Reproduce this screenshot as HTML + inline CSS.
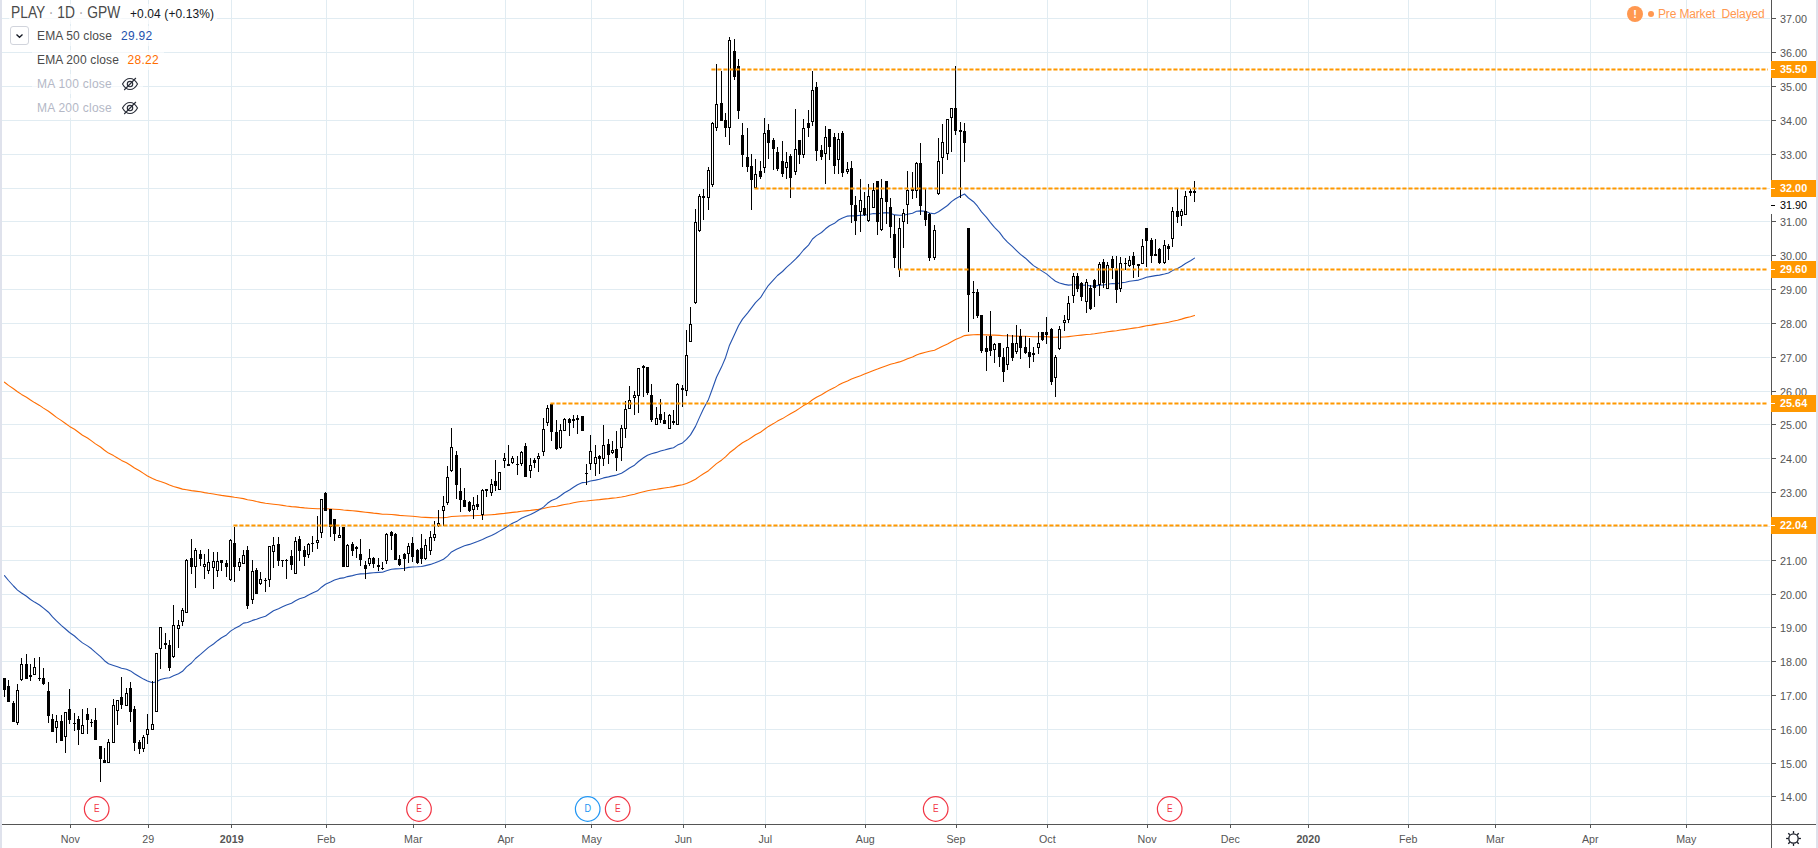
<!DOCTYPE html>
<html><head><meta charset="utf-8"><title>PLAY chart</title>
<style>
html,body{margin:0;padding:0;background:#fff;}
body{width:1818px;height:848px;overflow:hidden;position:relative;font-family:"Liberation Sans",sans-serif;}
.t{position:absolute;white-space:nowrap;line-height:1;}
.lg{background:rgba(255,255,255,.4);}
</style></head><body>
<svg width="1818" height="848" viewBox="0 0 1818 848" style="position:absolute;left:0;top:0">
<g shape-rendering="crispEdges" fill="#e1ecf2">
<rect x="2" y="796" width="1768" height="1"/>
<rect x="2" y="763" width="1768" height="1"/>
<rect x="2" y="729" width="1768" height="1"/>
<rect x="2" y="695" width="1768" height="1"/>
<rect x="2" y="661" width="1768" height="1"/>
<rect x="2" y="627" width="1768" height="1"/>
<rect x="2" y="594" width="1768" height="1"/>
<rect x="2" y="560" width="1768" height="1"/>
<rect x="2" y="526" width="1768" height="1"/>
<rect x="2" y="492" width="1768" height="1"/>
<rect x="2" y="458" width="1768" height="1"/>
<rect x="2" y="424" width="1768" height="1"/>
<rect x="2" y="391" width="1768" height="1"/>
<rect x="2" y="357" width="1768" height="1"/>
<rect x="2" y="323" width="1768" height="1"/>
<rect x="2" y="289" width="1768" height="1"/>
<rect x="2" y="255" width="1768" height="1"/>
<rect x="2" y="221" width="1768" height="1"/>
<rect x="2" y="188" width="1768" height="1"/>
<rect x="2" y="154" width="1768" height="1"/>
<rect x="2" y="120" width="1768" height="1"/>
<rect x="2" y="86" width="1768" height="1"/>
<rect x="2" y="52" width="1768" height="1"/>
<rect x="2" y="18" width="1768" height="1"/>
<rect x="70" y="0" width="1" height="824"/>
<rect x="148" y="0" width="1" height="824"/>
<rect x="231" y="0" width="1" height="824"/>
<rect x="326" y="0" width="1" height="824"/>
<rect x="413" y="0" width="1" height="824"/>
<rect x="505" y="0" width="1" height="824"/>
<rect x="591" y="0" width="1" height="824"/>
<rect x="683" y="0" width="1" height="824"/>
<rect x="765" y="0" width="1" height="824"/>
<rect x="865" y="0" width="1" height="824"/>
<rect x="956" y="0" width="1" height="824"/>
<rect x="1047" y="0" width="1" height="824"/>
<rect x="1147" y="0" width="1" height="824"/>
<rect x="1230" y="0" width="1" height="824"/>
<rect x="1308" y="0" width="1" height="824"/>
<rect x="1408" y="0" width="1" height="824"/>
<rect x="1495" y="0" width="1" height="824"/>
<rect x="1590" y="0" width="1" height="824"/>
<rect x="1686" y="0" width="1" height="824"/>
</g>
<polyline points="4.5,382.2 8.5,385.4 13.5,388.7 17.5,391.7 21.5,394.4 26.5,397.2 30.5,400.0 34.5,402.6 39.5,405.4 43.5,408.1 48.5,411.2 52.5,414.3 56.5,417.4 61.5,420.6 65.5,423.5 69.5,426.4 74.5,429.3 78.5,432.3 82.5,435.2 87.5,438.0 91.5,440.9 95.5,443.9 100.5,447.0 104.5,450.2 108.5,453.1 113.5,455.6 117.5,458.0 121.5,460.4 126.5,462.8 130.5,465.2 134.5,468.0 139.5,470.8 143.5,473.4 147.5,476.0 152.5,478.5 156.5,480.2 160.5,481.6 165.5,483.2 169.5,485.1 173.5,486.5 178.5,487.9 182.5,489.1 186.5,489.8 191.5,490.6 195.5,491.1 200.5,491.8 204.5,492.6 208.5,493.3 213.5,494.0 217.5,494.7 221.5,495.4 226.5,496.1 230.5,496.6 234.5,497.3 239.5,498.0 243.5,498.6 247.5,499.7 252.5,500.5 256.5,501.5 260.5,502.4 265.5,503.2 269.5,503.7 273.5,504.2 278.5,504.8 282.5,505.4 286.5,506.0 291.5,506.6 295.5,506.9 299.5,507.4 304.5,507.9 308.5,508.2 312.5,508.5 317.5,508.8 321.5,508.8 325.5,508.8 330.5,509.0 334.5,509.2 339.5,509.5 343.5,510.0 347.5,510.4 352.5,510.8 356.5,511.1 360.5,511.6 365.5,512.2 369.5,512.6 373.5,513.1 378.5,513.6 382.5,514.2 386.5,514.3 391.5,514.5 395.5,514.9 399.5,515.4 404.5,515.7 408.5,516.0 412.5,516.3 417.5,516.8 421.5,517.2 425.5,517.4 430.5,517.6 434.5,517.7 438.5,517.8 443.5,517.6 447.5,517.2 451.5,516.5 456.5,516.2 460.5,516.0 464.5,515.9 469.5,515.8 473.5,515.7 477.5,515.5 482.5,515.3 486.5,515.0 491.5,514.7 495.5,514.4 499.5,513.9 504.5,513.4 508.5,512.9 512.5,512.4 517.5,511.9 521.5,511.3 525.5,510.9 530.5,510.4 534.5,509.9 538.5,509.4 543.5,508.5 547.5,507.5 551.5,506.8 556.5,506.2 560.5,505.4 564.5,504.5 569.5,503.7 573.5,502.8 577.5,502.0 582.5,501.3 586.5,501.0 590.5,500.5 595.5,500.0 599.5,499.6 603.5,499.1 608.5,498.6 612.5,498.1 616.5,497.7 621.5,497.0 625.5,496.2 629.5,495.2 634.5,494.2 638.5,493.0 643.5,491.7 647.5,490.7 651.5,490.0 656.5,489.3 660.5,488.6 664.5,488.0 669.5,487.3 673.5,486.6 677.5,485.6 682.5,484.7 686.5,483.4 690.5,481.8 695.5,479.2 699.5,476.4 703.5,473.7 708.5,470.7 712.5,467.2 716.5,463.6 721.5,460.2 725.5,456.9 729.5,452.8 734.5,449.0 738.5,445.7 742.5,442.8 747.5,440.1 751.5,437.5 755.5,434.8 760.5,432.2 764.5,429.2 768.5,426.4 773.5,423.6 777.5,421.1 782.5,418.6 786.5,416.1 790.5,413.7 795.5,411.0 799.5,408.4 803.5,405.6 808.5,402.9 812.5,399.7 816.5,397.2 821.5,394.8 825.5,392.3 829.5,389.9 834.5,387.6 838.5,385.1 842.5,383.0 847.5,380.9 851.5,379.1 855.5,377.5 860.5,375.7 864.5,374.1 868.5,372.4 873.5,370.5 877.5,369.1 881.5,367.4 886.5,365.7 890.5,364.3 894.5,363.3 899.5,361.9 903.5,360.4 907.5,358.7 912.5,357.0 916.5,355.1 920.5,353.6 925.5,352.3 929.5,351.3 934.5,350.2 938.5,348.3 942.5,346.2 947.5,344.0 951.5,341.7 955.5,339.6 960.5,337.5 964.5,335.6 968.5,335.1 973.5,334.7 977.5,334.6 981.5,334.7 986.5,334.9 990.5,335.1 994.5,335.1 999.5,335.4 1003.5,335.7 1007.5,335.8 1012.5,336.0 1016.5,336.1 1020.5,336.2 1025.5,336.3 1029.5,336.5 1033.5,336.7 1038.5,336.7 1042.5,336.7 1046.5,336.6 1051.5,337.1 1055.5,337.2 1059.5,337.1 1064.5,337.0 1068.5,336.6 1073.5,336.0 1077.5,335.5 1081.5,335.1 1086.5,334.5 1090.5,334.3 1094.5,333.8 1099.5,333.0 1103.5,332.5 1107.5,331.8 1112.5,331.1 1116.5,330.7 1120.5,330.0 1125.5,329.4 1129.5,328.7 1133.5,328.1 1138.5,327.5 1142.5,326.6 1146.5,325.8 1151.5,325.1 1155.5,324.4 1159.5,323.8 1164.5,323.0 1168.5,322.3 1172.5,321.2 1177.5,320.2 1181.5,319.1 1185.5,317.9 1190.5,316.7 1194.5,315.4" fill="none" stroke="#ff6d00" stroke-width="1.1" stroke-linejoin="round" stroke-linecap="round"/>
<polyline points="4.5,575.6 8.5,580.5 13.5,586.0 17.5,590.1 21.5,593.0 26.5,596.3 30.5,599.5 34.5,602.1 39.5,605.0 43.5,608.1 48.5,612.2 52.5,616.9 56.5,620.9 61.5,625.6 65.5,629.0 69.5,632.5 74.5,636.0 78.5,639.6 82.5,642.9 87.5,645.9 91.5,648.8 95.5,652.4 100.5,656.6 104.5,660.7 108.5,663.8 113.5,665.4 117.5,666.7 121.5,668.2 126.5,669.2 130.5,670.9 134.5,673.7 139.5,676.7 143.5,679.1 147.5,681.1 152.5,682.8 156.5,681.7 160.5,679.5 165.5,678.2 169.5,677.8 173.5,675.8 178.5,673.8 182.5,671.3 186.5,666.9 191.5,663.0 195.5,658.5 200.5,654.4 204.5,650.9 208.5,647.4 213.5,644.0 217.5,640.7 221.5,637.7 226.5,634.9 230.5,631.1 234.5,628.6 239.5,626.0 243.5,623.1 247.5,622.5 252.5,620.4 256.5,619.3 260.5,617.7 265.5,616.2 269.5,613.5 273.5,610.8 278.5,608.8 282.5,606.8 286.5,605.0 291.5,603.3 295.5,600.8 299.5,598.8 304.5,597.2 308.5,595.0 312.5,592.9 317.5,590.8 321.5,587.2 325.5,584.2 330.5,582.0 334.5,580.1 339.5,578.4 343.5,577.9 347.5,576.6 352.5,575.6 356.5,574.5 360.5,573.9 365.5,573.7 369.5,573.1 373.5,572.7 378.5,572.4 382.5,572.2 386.5,570.7 391.5,569.3 395.5,568.9 399.5,568.8 404.5,568.3 408.5,567.4 412.5,567.0 417.5,566.8 421.5,566.5 425.5,565.6 430.5,564.4 434.5,563.1 438.5,561.5 443.5,559.3 447.5,556.1 451.5,551.9 456.5,549.3 460.5,547.4 464.5,545.8 469.5,544.4 473.5,542.9 477.5,541.5 482.5,539.5 486.5,537.6 491.5,535.4 495.5,533.5 499.5,531.1 504.5,528.2 508.5,525.8 512.5,523.2 517.5,520.9 521.5,518.2 525.5,516.6 530.5,514.6 534.5,512.5 538.5,510.3 543.5,507.1 547.5,503.3 551.5,500.5 556.5,498.5 560.5,495.8 564.5,492.8 569.5,490.0 573.5,487.3 577.5,484.7 582.5,482.6 586.5,482.3 590.5,481.0 595.5,480.1 599.5,479.2 603.5,477.9 608.5,476.9 612.5,475.9 616.5,475.1 621.5,473.2 625.5,470.7 629.5,468.0 634.5,465.2 638.5,461.5 643.5,457.8 647.5,455.2 651.5,453.8 656.5,452.4 660.5,451.0 664.5,450.0 669.5,448.6 673.5,447.7 677.5,445.1 682.5,442.9 686.5,439.4 690.5,434.9 695.5,426.4 699.5,417.4 703.5,408.8 708.5,399.4 712.5,388.5 716.5,377.2 721.5,367.1 725.5,357.7 729.5,345.2 734.5,334.6 738.5,325.8 742.5,319.1 747.5,313.1 751.5,307.9 755.5,302.7 760.5,297.7 764.5,291.3 768.5,285.3 773.5,279.9 777.5,275.5 782.5,271.5 786.5,267.3 790.5,263.8 795.5,259.2 799.5,255.0 803.5,250.0 808.5,245.1 812.5,239.0 816.5,235.6 821.5,232.5 825.5,228.8 829.5,225.7 834.5,223.3 838.5,220.0 842.5,218.1 847.5,216.1 851.5,215.7 855.5,215.9 860.5,215.3 864.5,215.2 868.5,214.5 873.5,213.5 877.5,213.8 881.5,213.1 886.5,212.6 890.5,213.2 894.5,214.9 899.5,215.3 903.5,215.2 907.5,214.2 912.5,213.2 916.5,211.2 920.5,210.9 925.5,211.3 929.5,213.1 934.5,213.8 938.5,211.7 942.5,209.0 947.5,205.5 951.5,201.6 955.5,198.8 960.5,196.1 964.5,194.0 968.5,198.0 973.5,201.7 977.5,206.2 981.5,211.9 986.5,217.4 990.5,222.6 994.5,227.3 999.5,232.4 1003.5,237.8 1007.5,242.2 1012.5,246.7 1016.5,250.6 1020.5,254.4 1025.5,258.2 1029.5,262.0 1033.5,265.6 1038.5,268.7 1042.5,271.4 1046.5,273.9 1051.5,278.1 1055.5,281.2 1059.5,283.0 1064.5,284.4 1068.5,285.1 1073.5,284.7 1077.5,284.8 1081.5,285.3 1086.5,285.1 1090.5,286.0 1094.5,286.1 1099.5,285.1 1103.5,285.0 1107.5,284.2 1112.5,283.5 1116.5,283.7 1120.5,282.9 1125.5,282.2 1129.5,281.3 1133.5,280.7 1138.5,280.1 1142.5,278.8 1146.5,277.3 1151.5,276.4 1155.5,275.6 1159.5,275.1 1164.5,274.0 1168.5,273.0 1172.5,270.6 1177.5,268.5 1181.5,266.2 1185.5,263.5 1190.5,260.8 1194.5,258.1" fill="none" stroke="#2452ae" stroke-width="1.1" stroke-linejoin="round" stroke-linecap="round"/>
<g shape-rendering="crispEdges">
<rect x="4" y="678" width="1" height="19" fill="#000"/>
<rect x="3" y="678" width="3" height="12" fill="#000"/>
<rect x="8" y="680" width="1" height="22" fill="#000"/>
<rect x="7" y="686" width="3" height="16" fill="#000"/>
<rect x="13" y="701" width="1" height="21" fill="#000"/>
<rect x="12" y="703" width="3" height="19" fill="#000"/>
<rect x="17" y="684" width="1" height="41" fill="#000"/>
<rect x="16" y="690" width="3" height="33" fill="#000"/>
<rect x="17" y="691" width="1" height="31" fill="#fff"/>
<rect x="21" y="658" width="1" height="23" fill="#000"/>
<rect x="20" y="664" width="3" height="16" fill="#000"/>
<rect x="21" y="665" width="1" height="14" fill="#fff"/>
<rect x="26" y="654" width="1" height="25" fill="#000"/>
<rect x="25" y="664" width="3" height="15" fill="#000"/>
<rect x="30" y="664" width="1" height="17" fill="#000"/>
<rect x="29" y="675" width="3" height="2" fill="#000"/>
<rect x="34" y="658" width="1" height="17" fill="#000"/>
<rect x="33" y="667" width="3" height="8" fill="#000"/>
<rect x="34" y="668" width="1" height="6" fill="#fff"/>
<rect x="39" y="657" width="1" height="24" fill="#000"/>
<rect x="38" y="678" width="3" height="1" fill="#000"/>
<rect x="43" y="668" width="1" height="17" fill="#000"/>
<rect x="42" y="678" width="3" height="6" fill="#000"/>
<rect x="48" y="682" width="1" height="41" fill="#000"/>
<rect x="47" y="691" width="3" height="25" fill="#000"/>
<rect x="52" y="714" width="1" height="18" fill="#000"/>
<rect x="51" y="719" width="3" height="13" fill="#000"/>
<rect x="56" y="715" width="1" height="28" fill="#000"/>
<rect x="55" y="721" width="3" height="7" fill="#000"/>
<rect x="56" y="722" width="1" height="5" fill="#fff"/>
<rect x="61" y="715" width="1" height="26" fill="#000"/>
<rect x="60" y="721" width="3" height="20" fill="#000"/>
<rect x="65" y="712" width="1" height="41" fill="#000"/>
<rect x="64" y="712" width="3" height="25" fill="#000"/>
<rect x="65" y="713" width="1" height="23" fill="#fff"/>
<rect x="69" y="689" width="1" height="35" fill="#000"/>
<rect x="68" y="709" width="3" height="11" fill="#000"/>
<rect x="74" y="713" width="1" height="18" fill="#000"/>
<rect x="73" y="723" width="3" height="1" fill="#000"/>
<rect x="78" y="716" width="1" height="29" fill="#000"/>
<rect x="77" y="719" width="3" height="11" fill="#000"/>
<rect x="82" y="709" width="1" height="25" fill="#000"/>
<rect x="81" y="725" width="3" height="9" fill="#000"/>
<rect x="82" y="726" width="1" height="7" fill="#fff"/>
<rect x="87" y="708" width="1" height="26" fill="#000"/>
<rect x="86" y="714" width="3" height="6" fill="#000"/>
<rect x="91" y="719" width="1" height="8" fill="#000"/>
<rect x="90" y="722" width="3" height="1" fill="#000"/>
<rect x="95" y="708" width="1" height="32" fill="#000"/>
<rect x="94" y="720" width="3" height="20" fill="#000"/>
<rect x="100" y="746" width="1" height="36" fill="#000"/>
<rect x="99" y="746" width="3" height="13" fill="#000"/>
<rect x="104" y="748" width="1" height="15" fill="#000"/>
<rect x="103" y="760" width="3" height="3" fill="#000"/>
<rect x="108" y="739" width="1" height="24" fill="#000"/>
<rect x="107" y="742" width="3" height="21" fill="#000"/>
<rect x="108" y="743" width="1" height="19" fill="#fff"/>
<rect x="113" y="699" width="1" height="44" fill="#000"/>
<rect x="112" y="705" width="3" height="38" fill="#000"/>
<rect x="113" y="706" width="1" height="36" fill="#fff"/>
<rect x="117" y="700" width="1" height="25" fill="#000"/>
<rect x="116" y="700" width="3" height="11" fill="#000"/>
<rect x="117" y="701" width="1" height="9" fill="#fff"/>
<rect x="121" y="677" width="1" height="32" fill="#000"/>
<rect x="120" y="697" width="3" height="8" fill="#000"/>
<rect x="126" y="688" width="1" height="18" fill="#000"/>
<rect x="125" y="693" width="3" height="13" fill="#000"/>
<rect x="126" y="694" width="1" height="11" fill="#fff"/>
<rect x="130" y="682" width="1" height="40" fill="#000"/>
<rect x="129" y="688" width="3" height="24" fill="#000"/>
<rect x="134" y="706" width="1" height="45" fill="#000"/>
<rect x="133" y="709" width="3" height="34" fill="#000"/>
<rect x="139" y="740" width="1" height="14" fill="#000"/>
<rect x="138" y="742" width="3" height="7" fill="#000"/>
<rect x="143" y="735" width="1" height="17" fill="#000"/>
<rect x="142" y="737" width="3" height="12" fill="#000"/>
<rect x="143" y="738" width="1" height="10" fill="#fff"/>
<rect x="147" y="714" width="1" height="30" fill="#000"/>
<rect x="146" y="729" width="3" height="6" fill="#000"/>
<rect x="147" y="730" width="1" height="4" fill="#fff"/>
<rect x="152" y="681" width="1" height="49" fill="#000"/>
<rect x="151" y="724" width="3" height="6" fill="#000"/>
<rect x="152" y="725" width="1" height="4" fill="#fff"/>
<rect x="156" y="653" width="1" height="59" fill="#000"/>
<rect x="155" y="653" width="3" height="59" fill="#000"/>
<rect x="156" y="654" width="1" height="57" fill="#fff"/>
<rect x="160" y="627" width="1" height="42" fill="#000"/>
<rect x="159" y="627" width="3" height="22" fill="#000"/>
<rect x="160" y="628" width="1" height="20" fill="#fff"/>
<rect x="165" y="633" width="1" height="16" fill="#000"/>
<rect x="164" y="643" width="3" height="2" fill="#000"/>
<rect x="169" y="640" width="1" height="31" fill="#000"/>
<rect x="168" y="645" width="3" height="23" fill="#000"/>
<rect x="173" y="605" width="1" height="53" fill="#000"/>
<rect x="172" y="625" width="3" height="32" fill="#000"/>
<rect x="173" y="626" width="1" height="30" fill="#fff"/>
<rect x="178" y="620" width="1" height="28" fill="#000"/>
<rect x="177" y="625" width="3" height="4" fill="#000"/>
<rect x="178" y="626" width="1" height="2" fill="#fff"/>
<rect x="182" y="608" width="1" height="18" fill="#000"/>
<rect x="181" y="610" width="3" height="12" fill="#000"/>
<rect x="182" y="611" width="1" height="10" fill="#fff"/>
<rect x="186" y="559" width="1" height="54" fill="#000"/>
<rect x="185" y="560" width="3" height="53" fill="#000"/>
<rect x="186" y="561" width="1" height="51" fill="#fff"/>
<rect x="191" y="539" width="1" height="35" fill="#000"/>
<rect x="190" y="558" width="3" height="9" fill="#000"/>
<rect x="195" y="548" width="1" height="40" fill="#000"/>
<rect x="194" y="550" width="3" height="17" fill="#000"/>
<rect x="195" y="551" width="1" height="15" fill="#fff"/>
<rect x="200" y="550" width="1" height="16" fill="#000"/>
<rect x="199" y="554" width="3" height="5" fill="#000"/>
<rect x="204" y="554" width="1" height="25" fill="#000"/>
<rect x="203" y="564" width="3" height="3" fill="#000"/>
<rect x="204" y="565" width="1" height="1" fill="#fff"/>
<rect x="208" y="549" width="1" height="25" fill="#000"/>
<rect x="207" y="562" width="3" height="9" fill="#000"/>
<rect x="208" y="563" width="1" height="7" fill="#fff"/>
<rect x="213" y="552" width="1" height="37" fill="#000"/>
<rect x="212" y="561" width="3" height="7" fill="#000"/>
<rect x="213" y="562" width="1" height="5" fill="#fff"/>
<rect x="217" y="552" width="1" height="25" fill="#000"/>
<rect x="216" y="561" width="3" height="10" fill="#000"/>
<rect x="217" y="562" width="1" height="8" fill="#fff"/>
<rect x="221" y="560" width="1" height="11" fill="#000"/>
<rect x="220" y="560" width="3" height="3" fill="#000"/>
<rect x="226" y="560" width="1" height="17" fill="#000"/>
<rect x="225" y="563" width="3" height="4" fill="#000"/>
<rect x="230" y="539" width="1" height="42" fill="#000"/>
<rect x="229" y="540" width="3" height="40" fill="#000"/>
<rect x="230" y="541" width="1" height="38" fill="#fff"/>
<rect x="234" y="527" width="1" height="55" fill="#000"/>
<rect x="233" y="543" width="3" height="24" fill="#000"/>
<rect x="239" y="558" width="1" height="13" fill="#000"/>
<rect x="238" y="562" width="3" height="5" fill="#000"/>
<rect x="239" y="563" width="1" height="3" fill="#fff"/>
<rect x="243" y="550" width="1" height="14" fill="#000"/>
<rect x="242" y="555" width="3" height="9" fill="#000"/>
<rect x="243" y="556" width="1" height="7" fill="#fff"/>
<rect x="247" y="546" width="1" height="63" fill="#000"/>
<rect x="246" y="550" width="3" height="56" fill="#000"/>
<rect x="252" y="560" width="1" height="44" fill="#000"/>
<rect x="251" y="571" width="3" height="29" fill="#000"/>
<rect x="252" y="572" width="1" height="27" fill="#fff"/>
<rect x="256" y="568" width="1" height="26" fill="#000"/>
<rect x="255" y="570" width="3" height="24" fill="#000"/>
<rect x="260" y="572" width="1" height="13" fill="#000"/>
<rect x="259" y="579" width="3" height="5" fill="#000"/>
<rect x="260" y="580" width="1" height="3" fill="#fff"/>
<rect x="265" y="578" width="1" height="14" fill="#000"/>
<rect x="264" y="580" width="3" height="1" fill="#000"/>
<rect x="269" y="546" width="1" height="41" fill="#000"/>
<rect x="268" y="546" width="3" height="34" fill="#000"/>
<rect x="269" y="547" width="1" height="32" fill="#fff"/>
<rect x="273" y="537" width="1" height="31" fill="#000"/>
<rect x="272" y="545" width="3" height="7" fill="#000"/>
<rect x="273" y="546" width="1" height="5" fill="#fff"/>
<rect x="278" y="537" width="1" height="29" fill="#000"/>
<rect x="277" y="544" width="3" height="17" fill="#000"/>
<rect x="282" y="560" width="1" height="7" fill="#000"/>
<rect x="281" y="560" width="3" height="1" fill="#000"/>
<rect x="286" y="559" width="1" height="20" fill="#000"/>
<rect x="285" y="560" width="3" height="1" fill="#000"/>
<rect x="291" y="550" width="1" height="20" fill="#000"/>
<rect x="290" y="556" width="3" height="9" fill="#000"/>
<rect x="295" y="537" width="1" height="37" fill="#000"/>
<rect x="294" y="541" width="3" height="33" fill="#000"/>
<rect x="295" y="542" width="1" height="31" fill="#fff"/>
<rect x="299" y="536" width="1" height="25" fill="#000"/>
<rect x="298" y="539" width="3" height="12" fill="#000"/>
<rect x="304" y="546" width="1" height="20" fill="#000"/>
<rect x="303" y="550" width="3" height="7" fill="#000"/>
<rect x="308" y="543" width="1" height="15" fill="#000"/>
<rect x="307" y="544" width="3" height="11" fill="#000"/>
<rect x="308" y="545" width="1" height="9" fill="#fff"/>
<rect x="312" y="536" width="1" height="16" fill="#000"/>
<rect x="311" y="543" width="3" height="1" fill="#000"/>
<rect x="317" y="516" width="1" height="33" fill="#000"/>
<rect x="316" y="540" width="3" height="3" fill="#000"/>
<rect x="317" y="541" width="1" height="1" fill="#fff"/>
<rect x="321" y="499" width="1" height="39" fill="#000"/>
<rect x="320" y="499" width="3" height="34" fill="#000"/>
<rect x="321" y="500" width="1" height="32" fill="#fff"/>
<rect x="325" y="492" width="1" height="19" fill="#000"/>
<rect x="324" y="493" width="3" height="18" fill="#000"/>
<rect x="330" y="509" width="1" height="28" fill="#000"/>
<rect x="329" y="509" width="3" height="18" fill="#000"/>
<rect x="334" y="519" width="1" height="22" fill="#000"/>
<rect x="333" y="519" width="3" height="15" fill="#000"/>
<rect x="339" y="527" width="1" height="11" fill="#000"/>
<rect x="338" y="535" width="3" height="3" fill="#000"/>
<rect x="339" y="536" width="1" height="1" fill="#fff"/>
<rect x="343" y="527" width="1" height="40" fill="#000"/>
<rect x="342" y="527" width="3" height="40" fill="#000"/>
<rect x="347" y="544" width="1" height="23" fill="#000"/>
<rect x="346" y="545" width="3" height="22" fill="#000"/>
<rect x="347" y="546" width="1" height="20" fill="#fff"/>
<rect x="352" y="542" width="1" height="14" fill="#000"/>
<rect x="351" y="544" width="3" height="7" fill="#000"/>
<rect x="356" y="546" width="1" height="12" fill="#000"/>
<rect x="355" y="547" width="3" height="2" fill="#000"/>
<rect x="360" y="539" width="1" height="27" fill="#000"/>
<rect x="359" y="554" width="3" height="6" fill="#000"/>
<rect x="365" y="561" width="1" height="18" fill="#000"/>
<rect x="364" y="565" width="3" height="4" fill="#000"/>
<rect x="369" y="549" width="1" height="17" fill="#000"/>
<rect x="368" y="558" width="3" height="6" fill="#000"/>
<rect x="369" y="559" width="1" height="4" fill="#fff"/>
<rect x="373" y="557" width="1" height="11" fill="#000"/>
<rect x="372" y="558" width="3" height="6" fill="#000"/>
<rect x="378" y="558" width="1" height="13" fill="#000"/>
<rect x="377" y="565" width="3" height="2" fill="#000"/>
<rect x="382" y="562" width="1" height="8" fill="#000"/>
<rect x="381" y="568" width="3" height="1" fill="#000"/>
<rect x="386" y="533" width="1" height="31" fill="#000"/>
<rect x="385" y="534" width="3" height="27" fill="#000"/>
<rect x="386" y="535" width="1" height="25" fill="#fff"/>
<rect x="391" y="531" width="1" height="19" fill="#000"/>
<rect x="390" y="532" width="3" height="4" fill="#000"/>
<rect x="395" y="533" width="1" height="27" fill="#000"/>
<rect x="394" y="534" width="3" height="26" fill="#000"/>
<rect x="399" y="555" width="1" height="11" fill="#000"/>
<rect x="398" y="559" width="3" height="6" fill="#000"/>
<rect x="404" y="553" width="1" height="18" fill="#000"/>
<rect x="403" y="554" width="3" height="5" fill="#000"/>
<rect x="408" y="543" width="1" height="20" fill="#000"/>
<rect x="407" y="546" width="3" height="8" fill="#000"/>
<rect x="408" y="547" width="1" height="6" fill="#fff"/>
<rect x="412" y="537" width="1" height="25" fill="#000"/>
<rect x="411" y="543" width="3" height="14" fill="#000"/>
<rect x="417" y="549" width="1" height="15" fill="#000"/>
<rect x="416" y="550" width="3" height="13" fill="#000"/>
<rect x="421" y="534" width="1" height="30" fill="#000"/>
<rect x="420" y="548" width="3" height="11" fill="#000"/>
<rect x="425" y="539" width="1" height="21" fill="#000"/>
<rect x="424" y="545" width="3" height="14" fill="#000"/>
<rect x="425" y="546" width="1" height="12" fill="#fff"/>
<rect x="430" y="531" width="1" height="24" fill="#000"/>
<rect x="429" y="537" width="3" height="14" fill="#000"/>
<rect x="430" y="538" width="1" height="12" fill="#fff"/>
<rect x="434" y="521" width="1" height="20" fill="#000"/>
<rect x="433" y="534" width="3" height="4" fill="#000"/>
<rect x="434" y="535" width="1" height="2" fill="#fff"/>
<rect x="438" y="510" width="1" height="17" fill="#000"/>
<rect x="437" y="523" width="3" height="3" fill="#000"/>
<rect x="438" y="524" width="1" height="1" fill="#fff"/>
<rect x="443" y="496" width="1" height="30" fill="#000"/>
<rect x="442" y="506" width="3" height="5" fill="#000"/>
<rect x="443" y="507" width="1" height="3" fill="#fff"/>
<rect x="447" y="466" width="1" height="39" fill="#000"/>
<rect x="446" y="477" width="3" height="26" fill="#000"/>
<rect x="447" y="478" width="1" height="24" fill="#fff"/>
<rect x="451" y="428" width="1" height="44" fill="#000"/>
<rect x="450" y="447" width="3" height="24" fill="#000"/>
<rect x="451" y="448" width="1" height="22" fill="#fff"/>
<rect x="456" y="451" width="1" height="48" fill="#000"/>
<rect x="455" y="455" width="3" height="30" fill="#000"/>
<rect x="460" y="468" width="1" height="44" fill="#000"/>
<rect x="459" y="491" width="3" height="9" fill="#000"/>
<rect x="464" y="488" width="1" height="19" fill="#000"/>
<rect x="463" y="500" width="3" height="7" fill="#000"/>
<rect x="469" y="501" width="1" height="11" fill="#000"/>
<rect x="468" y="502" width="3" height="9" fill="#000"/>
<rect x="473" y="497" width="1" height="22" fill="#000"/>
<rect x="472" y="505" width="3" height="5" fill="#000"/>
<rect x="473" y="506" width="1" height="3" fill="#fff"/>
<rect x="477" y="495" width="1" height="15" fill="#000"/>
<rect x="476" y="504" width="3" height="3" fill="#000"/>
<rect x="482" y="489" width="1" height="31" fill="#000"/>
<rect x="481" y="490" width="3" height="25" fill="#000"/>
<rect x="482" y="491" width="1" height="23" fill="#fff"/>
<rect x="486" y="489" width="1" height="8" fill="#000"/>
<rect x="485" y="489" width="3" height="2" fill="#000"/>
<rect x="491" y="479" width="1" height="17" fill="#000"/>
<rect x="490" y="484" width="3" height="9" fill="#000"/>
<rect x="491" y="485" width="1" height="7" fill="#fff"/>
<rect x="495" y="460" width="1" height="31" fill="#000"/>
<rect x="494" y="481" width="3" height="5" fill="#000"/>
<rect x="499" y="472" width="1" height="18" fill="#000"/>
<rect x="498" y="472" width="3" height="18" fill="#000"/>
<rect x="499" y="473" width="1" height="16" fill="#fff"/>
<rect x="504" y="453" width="1" height="15" fill="#000"/>
<rect x="503" y="458" width="3" height="3" fill="#000"/>
<rect x="504" y="459" width="1" height="1" fill="#fff"/>
<rect x="508" y="445" width="1" height="21" fill="#000"/>
<rect x="507" y="464" width="3" height="2" fill="#000"/>
<rect x="512" y="456" width="1" height="8" fill="#000"/>
<rect x="511" y="458" width="3" height="5" fill="#000"/>
<rect x="512" y="459" width="1" height="3" fill="#fff"/>
<rect x="517" y="456" width="1" height="19" fill="#000"/>
<rect x="516" y="464" width="3" height="1" fill="#000"/>
<rect x="521" y="451" width="1" height="15" fill="#000"/>
<rect x="520" y="452" width="3" height="12" fill="#000"/>
<rect x="521" y="453" width="1" height="10" fill="#fff"/>
<rect x="525" y="443" width="1" height="34" fill="#000"/>
<rect x="524" y="446" width="3" height="31" fill="#000"/>
<rect x="530" y="458" width="1" height="20" fill="#000"/>
<rect x="529" y="465" width="3" height="6" fill="#000"/>
<rect x="530" y="466" width="1" height="4" fill="#fff"/>
<rect x="534" y="458" width="1" height="10" fill="#000"/>
<rect x="533" y="460" width="3" height="3" fill="#000"/>
<rect x="538" y="453" width="1" height="19" fill="#000"/>
<rect x="537" y="456" width="3" height="3" fill="#000"/>
<rect x="538" y="457" width="1" height="1" fill="#fff"/>
<rect x="543" y="418" width="1" height="38" fill="#000"/>
<rect x="542" y="429" width="3" height="23" fill="#000"/>
<rect x="543" y="430" width="1" height="21" fill="#fff"/>
<rect x="547" y="405" width="1" height="21" fill="#000"/>
<rect x="546" y="408" width="3" height="15" fill="#000"/>
<rect x="547" y="409" width="1" height="13" fill="#fff"/>
<rect x="551" y="403" width="1" height="38" fill="#000"/>
<rect x="550" y="404" width="3" height="28" fill="#000"/>
<rect x="556" y="420" width="1" height="30" fill="#000"/>
<rect x="555" y="432" width="3" height="17" fill="#000"/>
<rect x="560" y="424" width="1" height="25" fill="#000"/>
<rect x="559" y="430" width="3" height="18" fill="#000"/>
<rect x="560" y="431" width="1" height="16" fill="#fff"/>
<rect x="564" y="418" width="1" height="13" fill="#000"/>
<rect x="563" y="419" width="3" height="12" fill="#000"/>
<rect x="564" y="420" width="1" height="10" fill="#fff"/>
<rect x="569" y="418" width="1" height="18" fill="#000"/>
<rect x="568" y="419" width="3" height="4" fill="#000"/>
<rect x="573" y="415" width="1" height="13" fill="#000"/>
<rect x="572" y="419" width="3" height="2" fill="#000"/>
<rect x="577" y="415" width="1" height="19" fill="#000"/>
<rect x="576" y="418" width="3" height="2" fill="#000"/>
<rect x="582" y="416" width="1" height="15" fill="#000"/>
<rect x="581" y="416" width="3" height="15" fill="#000"/>
<rect x="586" y="464" width="1" height="21" fill="#000"/>
<rect x="585" y="473" width="3" height="1" fill="#000"/>
<rect x="590" y="435" width="1" height="35" fill="#000"/>
<rect x="589" y="451" width="3" height="13" fill="#000"/>
<rect x="590" y="452" width="1" height="11" fill="#fff"/>
<rect x="595" y="445" width="1" height="31" fill="#000"/>
<rect x="594" y="457" width="3" height="7" fill="#000"/>
<rect x="595" y="458" width="1" height="5" fill="#fff"/>
<rect x="599" y="455" width="1" height="19" fill="#000"/>
<rect x="598" y="456" width="3" height="3" fill="#000"/>
<rect x="603" y="425" width="1" height="41" fill="#000"/>
<rect x="602" y="445" width="3" height="14" fill="#000"/>
<rect x="603" y="446" width="1" height="12" fill="#fff"/>
<rect x="608" y="439" width="1" height="25" fill="#000"/>
<rect x="607" y="444" width="3" height="11" fill="#000"/>
<rect x="612" y="441" width="1" height="13" fill="#000"/>
<rect x="611" y="450" width="3" height="3" fill="#000"/>
<rect x="612" y="451" width="1" height="1" fill="#fff"/>
<rect x="616" y="431" width="1" height="40" fill="#000"/>
<rect x="615" y="449" width="3" height="9" fill="#000"/>
<rect x="621" y="425" width="1" height="36" fill="#000"/>
<rect x="620" y="428" width="3" height="20" fill="#000"/>
<rect x="621" y="429" width="1" height="18" fill="#fff"/>
<rect x="625" y="401" width="1" height="37" fill="#000"/>
<rect x="624" y="409" width="3" height="20" fill="#000"/>
<rect x="625" y="410" width="1" height="18" fill="#fff"/>
<rect x="629" y="386" width="1" height="23" fill="#000"/>
<rect x="628" y="400" width="3" height="9" fill="#000"/>
<rect x="629" y="401" width="1" height="7" fill="#fff"/>
<rect x="634" y="391" width="1" height="24" fill="#000"/>
<rect x="633" y="395" width="3" height="3" fill="#000"/>
<rect x="634" y="396" width="1" height="1" fill="#fff"/>
<rect x="638" y="368" width="1" height="45" fill="#000"/>
<rect x="637" y="368" width="3" height="28" fill="#000"/>
<rect x="638" y="369" width="1" height="26" fill="#fff"/>
<rect x="643" y="365" width="1" height="32" fill="#000"/>
<rect x="642" y="366" width="3" height="2" fill="#000"/>
<rect x="647" y="367" width="1" height="28" fill="#000"/>
<rect x="646" y="367" width="3" height="26" fill="#000"/>
<rect x="651" y="384" width="1" height="38" fill="#000"/>
<rect x="650" y="395" width="3" height="25" fill="#000"/>
<rect x="656" y="407" width="1" height="18" fill="#000"/>
<rect x="655" y="418" width="3" height="7" fill="#000"/>
<rect x="656" y="419" width="1" height="5" fill="#fff"/>
<rect x="660" y="399" width="1" height="24" fill="#000"/>
<rect x="659" y="414" width="3" height="6" fill="#000"/>
<rect x="664" y="412" width="1" height="12" fill="#000"/>
<rect x="663" y="420" width="3" height="4" fill="#000"/>
<rect x="669" y="414" width="1" height="15" fill="#000"/>
<rect x="668" y="415" width="3" height="14" fill="#000"/>
<rect x="669" y="416" width="1" height="12" fill="#fff"/>
<rect x="673" y="410" width="1" height="15" fill="#000"/>
<rect x="672" y="421" width="3" height="2" fill="#000"/>
<rect x="677" y="383" width="1" height="42" fill="#000"/>
<rect x="676" y="384" width="3" height="41" fill="#000"/>
<rect x="677" y="385" width="1" height="39" fill="#fff"/>
<rect x="682" y="385" width="1" height="22" fill="#000"/>
<rect x="681" y="388" width="3" height="2" fill="#000"/>
<rect x="686" y="330" width="1" height="66" fill="#000"/>
<rect x="685" y="355" width="3" height="36" fill="#000"/>
<rect x="686" y="356" width="1" height="34" fill="#fff"/>
<rect x="690" y="307" width="1" height="35" fill="#000"/>
<rect x="689" y="324" width="3" height="18" fill="#000"/>
<rect x="690" y="325" width="1" height="16" fill="#fff"/>
<rect x="695" y="209" width="1" height="95" fill="#000"/>
<rect x="694" y="222" width="3" height="81" fill="#000"/>
<rect x="695" y="223" width="1" height="79" fill="#fff"/>
<rect x="699" y="194" width="1" height="38" fill="#000"/>
<rect x="698" y="196" width="3" height="35" fill="#000"/>
<rect x="699" y="197" width="1" height="33" fill="#fff"/>
<rect x="703" y="189" width="1" height="31" fill="#000"/>
<rect x="702" y="196" width="3" height="2" fill="#000"/>
<rect x="708" y="167" width="1" height="43" fill="#000"/>
<rect x="707" y="170" width="3" height="28" fill="#000"/>
<rect x="708" y="171" width="1" height="26" fill="#fff"/>
<rect x="712" y="122" width="1" height="65" fill="#000"/>
<rect x="711" y="123" width="3" height="62" fill="#000"/>
<rect x="712" y="124" width="1" height="60" fill="#fff"/>
<rect x="716" y="64" width="1" height="67" fill="#000"/>
<rect x="715" y="104" width="3" height="24" fill="#000"/>
<rect x="716" y="105" width="1" height="22" fill="#fff"/>
<rect x="721" y="71" width="1" height="50" fill="#000"/>
<rect x="720" y="103" width="3" height="18" fill="#000"/>
<rect x="725" y="113" width="1" height="24" fill="#000"/>
<rect x="724" y="120" width="3" height="8" fill="#000"/>
<rect x="729" y="37" width="1" height="108" fill="#000"/>
<rect x="728" y="40" width="3" height="88" fill="#000"/>
<rect x="729" y="41" width="1" height="86" fill="#fff"/>
<rect x="734" y="39" width="1" height="41" fill="#000"/>
<rect x="733" y="51" width="3" height="26" fill="#000"/>
<rect x="738" y="59" width="1" height="60" fill="#000"/>
<rect x="737" y="66" width="3" height="45" fill="#000"/>
<rect x="742" y="123" width="1" height="44" fill="#000"/>
<rect x="741" y="135" width="3" height="20" fill="#000"/>
<rect x="747" y="128" width="1" height="44" fill="#000"/>
<rect x="746" y="157" width="3" height="10" fill="#000"/>
<rect x="751" y="154" width="1" height="56" fill="#000"/>
<rect x="750" y="166" width="3" height="14" fill="#000"/>
<rect x="755" y="159" width="1" height="29" fill="#000"/>
<rect x="754" y="174" width="3" height="14" fill="#000"/>
<rect x="755" y="175" width="1" height="12" fill="#fff"/>
<rect x="760" y="161" width="1" height="18" fill="#000"/>
<rect x="759" y="171" width="3" height="6" fill="#000"/>
<rect x="764" y="118" width="1" height="55" fill="#000"/>
<rect x="763" y="133" width="3" height="35" fill="#000"/>
<rect x="764" y="134" width="1" height="33" fill="#fff"/>
<rect x="768" y="124" width="1" height="35" fill="#000"/>
<rect x="767" y="130" width="3" height="13" fill="#000"/>
<rect x="773" y="138" width="1" height="32" fill="#000"/>
<rect x="772" y="140" width="3" height="9" fill="#000"/>
<rect x="777" y="147" width="1" height="24" fill="#000"/>
<rect x="776" y="152" width="3" height="17" fill="#000"/>
<rect x="782" y="141" width="1" height="36" fill="#000"/>
<rect x="781" y="161" width="3" height="13" fill="#000"/>
<rect x="786" y="152" width="1" height="27" fill="#000"/>
<rect x="785" y="162" width="3" height="6" fill="#000"/>
<rect x="786" y="163" width="1" height="4" fill="#fff"/>
<rect x="790" y="154" width="1" height="44" fill="#000"/>
<rect x="789" y="156" width="3" height="22" fill="#000"/>
<rect x="795" y="109" width="1" height="66" fill="#000"/>
<rect x="794" y="149" width="3" height="23" fill="#000"/>
<rect x="795" y="150" width="1" height="21" fill="#fff"/>
<rect x="799" y="140" width="1" height="24" fill="#000"/>
<rect x="798" y="140" width="3" height="15" fill="#000"/>
<rect x="803" y="119" width="1" height="39" fill="#000"/>
<rect x="802" y="128" width="3" height="27" fill="#000"/>
<rect x="803" y="129" width="1" height="25" fill="#fff"/>
<rect x="808" y="110" width="1" height="27" fill="#000"/>
<rect x="807" y="123" width="3" height="5" fill="#000"/>
<rect x="812" y="71" width="1" height="55" fill="#000"/>
<rect x="811" y="90" width="3" height="32" fill="#000"/>
<rect x="812" y="91" width="1" height="30" fill="#fff"/>
<rect x="816" y="82" width="1" height="79" fill="#000"/>
<rect x="815" y="87" width="3" height="64" fill="#000"/>
<rect x="821" y="145" width="1" height="15" fill="#000"/>
<rect x="820" y="150" width="3" height="7" fill="#000"/>
<rect x="825" y="126" width="1" height="58" fill="#000"/>
<rect x="824" y="137" width="3" height="17" fill="#000"/>
<rect x="825" y="138" width="1" height="15" fill="#fff"/>
<rect x="829" y="129" width="1" height="31" fill="#000"/>
<rect x="828" y="129" width="3" height="18" fill="#000"/>
<rect x="834" y="133" width="1" height="41" fill="#000"/>
<rect x="833" y="137" width="3" height="29" fill="#000"/>
<rect x="838" y="133" width="1" height="41" fill="#000"/>
<rect x="837" y="139" width="3" height="21" fill="#000"/>
<rect x="838" y="140" width="1" height="19" fill="#fff"/>
<rect x="842" y="131" width="1" height="46" fill="#000"/>
<rect x="841" y="133" width="3" height="40" fill="#000"/>
<rect x="847" y="162" width="1" height="12" fill="#000"/>
<rect x="846" y="169" width="3" height="3" fill="#000"/>
<rect x="847" y="170" width="1" height="1" fill="#fff"/>
<rect x="851" y="161" width="1" height="62" fill="#000"/>
<rect x="850" y="168" width="3" height="37" fill="#000"/>
<rect x="855" y="196" width="1" height="39" fill="#000"/>
<rect x="854" y="205" width="3" height="16" fill="#000"/>
<rect x="860" y="179" width="1" height="53" fill="#000"/>
<rect x="859" y="200" width="3" height="12" fill="#000"/>
<rect x="860" y="201" width="1" height="10" fill="#fff"/>
<rect x="864" y="192" width="1" height="24" fill="#000"/>
<rect x="863" y="208" width="3" height="7" fill="#000"/>
<rect x="868" y="184" width="1" height="38" fill="#000"/>
<rect x="867" y="196" width="3" height="25" fill="#000"/>
<rect x="868" y="197" width="1" height="23" fill="#fff"/>
<rect x="873" y="183" width="1" height="25" fill="#000"/>
<rect x="872" y="190" width="3" height="18" fill="#000"/>
<rect x="873" y="191" width="1" height="16" fill="#fff"/>
<rect x="877" y="181" width="1" height="54" fill="#000"/>
<rect x="876" y="181" width="3" height="41" fill="#000"/>
<rect x="881" y="179" width="1" height="52" fill="#000"/>
<rect x="880" y="198" width="3" height="32" fill="#000"/>
<rect x="881" y="199" width="1" height="30" fill="#fff"/>
<rect x="886" y="181" width="1" height="43" fill="#000"/>
<rect x="885" y="181" width="3" height="21" fill="#000"/>
<rect x="890" y="198" width="1" height="40" fill="#000"/>
<rect x="889" y="207" width="3" height="20" fill="#000"/>
<rect x="894" y="215" width="1" height="53" fill="#000"/>
<rect x="893" y="234" width="3" height="24" fill="#000"/>
<rect x="899" y="218" width="1" height="59" fill="#000"/>
<rect x="898" y="228" width="3" height="42" fill="#000"/>
<rect x="899" y="229" width="1" height="40" fill="#fff"/>
<rect x="903" y="209" width="1" height="39" fill="#000"/>
<rect x="902" y="213" width="3" height="9" fill="#000"/>
<rect x="903" y="214" width="1" height="7" fill="#fff"/>
<rect x="907" y="171" width="1" height="53" fill="#000"/>
<rect x="906" y="190" width="3" height="15" fill="#000"/>
<rect x="907" y="191" width="1" height="13" fill="#fff"/>
<rect x="912" y="172" width="1" height="27" fill="#000"/>
<rect x="911" y="189" width="3" height="2" fill="#000"/>
<rect x="916" y="162" width="1" height="36" fill="#000"/>
<rect x="915" y="163" width="3" height="28" fill="#000"/>
<rect x="916" y="164" width="1" height="26" fill="#fff"/>
<rect x="920" y="143" width="1" height="72" fill="#000"/>
<rect x="919" y="163" width="3" height="43" fill="#000"/>
<rect x="925" y="189" width="1" height="37" fill="#000"/>
<rect x="924" y="211" width="3" height="9" fill="#000"/>
<rect x="929" y="213" width="1" height="48" fill="#000"/>
<rect x="928" y="214" width="3" height="44" fill="#000"/>
<rect x="934" y="225" width="1" height="35" fill="#000"/>
<rect x="933" y="230" width="3" height="28" fill="#000"/>
<rect x="934" y="231" width="1" height="26" fill="#fff"/>
<rect x="938" y="138" width="1" height="57" fill="#000"/>
<rect x="937" y="161" width="3" height="33" fill="#000"/>
<rect x="938" y="162" width="1" height="31" fill="#fff"/>
<rect x="942" y="124" width="1" height="50" fill="#000"/>
<rect x="941" y="142" width="3" height="16" fill="#000"/>
<rect x="942" y="143" width="1" height="14" fill="#fff"/>
<rect x="947" y="119" width="1" height="41" fill="#000"/>
<rect x="946" y="119" width="3" height="35" fill="#000"/>
<rect x="947" y="120" width="1" height="33" fill="#fff"/>
<rect x="951" y="108" width="1" height="44" fill="#000"/>
<rect x="950" y="108" width="3" height="10" fill="#000"/>
<rect x="951" y="109" width="1" height="8" fill="#fff"/>
<rect x="955" y="66" width="1" height="69" fill="#000"/>
<rect x="954" y="108" width="3" height="23" fill="#000"/>
<rect x="960" y="122" width="1" height="76" fill="#000"/>
<rect x="959" y="130" width="3" height="2" fill="#000"/>
<rect x="964" y="123" width="1" height="39" fill="#000"/>
<rect x="963" y="131" width="3" height="12" fill="#000"/>
<rect x="968" y="228" width="1" height="104" fill="#000"/>
<rect x="967" y="228" width="3" height="67" fill="#000"/>
<rect x="973" y="281" width="1" height="38" fill="#000"/>
<rect x="972" y="292" width="3" height="1" fill="#000"/>
<rect x="977" y="289" width="1" height="29" fill="#000"/>
<rect x="976" y="292" width="3" height="24" fill="#000"/>
<rect x="981" y="315" width="1" height="38" fill="#000"/>
<rect x="980" y="315" width="3" height="36" fill="#000"/>
<rect x="986" y="336" width="1" height="35" fill="#000"/>
<rect x="985" y="348" width="3" height="4" fill="#000"/>
<rect x="990" y="311" width="1" height="45" fill="#000"/>
<rect x="989" y="336" width="3" height="15" fill="#000"/>
<rect x="994" y="343" width="1" height="20" fill="#000"/>
<rect x="993" y="344" width="3" height="6" fill="#000"/>
<rect x="994" y="345" width="1" height="4" fill="#fff"/>
<rect x="999" y="343" width="1" height="24" fill="#000"/>
<rect x="998" y="343" width="3" height="14" fill="#000"/>
<rect x="1003" y="348" width="1" height="34" fill="#000"/>
<rect x="1002" y="357" width="3" height="15" fill="#000"/>
<rect x="1007" y="334" width="1" height="36" fill="#000"/>
<rect x="1006" y="347" width="3" height="18" fill="#000"/>
<rect x="1007" y="348" width="1" height="16" fill="#fff"/>
<rect x="1012" y="335" width="1" height="26" fill="#000"/>
<rect x="1011" y="343" width="3" height="15" fill="#000"/>
<rect x="1016" y="325" width="1" height="29" fill="#000"/>
<rect x="1015" y="343" width="3" height="9" fill="#000"/>
<rect x="1016" y="344" width="1" height="7" fill="#fff"/>
<rect x="1020" y="329" width="1" height="30" fill="#000"/>
<rect x="1019" y="336" width="3" height="12" fill="#000"/>
<rect x="1025" y="336" width="1" height="18" fill="#000"/>
<rect x="1024" y="347" width="3" height="6" fill="#000"/>
<rect x="1029" y="338" width="1" height="30" fill="#000"/>
<rect x="1028" y="352" width="3" height="5" fill="#000"/>
<rect x="1033" y="347" width="1" height="15" fill="#000"/>
<rect x="1032" y="353" width="3" height="2" fill="#000"/>
<rect x="1038" y="332" width="1" height="22" fill="#000"/>
<rect x="1037" y="343" width="3" height="5" fill="#000"/>
<rect x="1038" y="344" width="1" height="3" fill="#fff"/>
<rect x="1042" y="332" width="1" height="9" fill="#000"/>
<rect x="1041" y="332" width="3" height="8" fill="#000"/>
<rect x="1046" y="317" width="1" height="27" fill="#000"/>
<rect x="1045" y="332" width="3" height="3" fill="#000"/>
<rect x="1051" y="328" width="1" height="57" fill="#000"/>
<rect x="1050" y="329" width="3" height="53" fill="#000"/>
<rect x="1055" y="355" width="1" height="42" fill="#000"/>
<rect x="1054" y="357" width="3" height="21" fill="#000"/>
<rect x="1055" y="358" width="1" height="19" fill="#fff"/>
<rect x="1059" y="326" width="1" height="24" fill="#000"/>
<rect x="1058" y="329" width="3" height="20" fill="#000"/>
<rect x="1059" y="330" width="1" height="18" fill="#fff"/>
<rect x="1064" y="315" width="1" height="16" fill="#000"/>
<rect x="1063" y="320" width="3" height="3" fill="#000"/>
<rect x="1064" y="321" width="1" height="1" fill="#fff"/>
<rect x="1068" y="296" width="1" height="27" fill="#000"/>
<rect x="1067" y="303" width="3" height="17" fill="#000"/>
<rect x="1068" y="304" width="1" height="15" fill="#fff"/>
<rect x="1073" y="273" width="1" height="30" fill="#000"/>
<rect x="1072" y="276" width="3" height="20" fill="#000"/>
<rect x="1073" y="277" width="1" height="18" fill="#fff"/>
<rect x="1077" y="273" width="1" height="19" fill="#000"/>
<rect x="1076" y="276" width="3" height="13" fill="#000"/>
<rect x="1081" y="282" width="1" height="19" fill="#000"/>
<rect x="1080" y="283" width="3" height="14" fill="#000"/>
<rect x="1086" y="279" width="1" height="34" fill="#000"/>
<rect x="1085" y="282" width="3" height="20" fill="#000"/>
<rect x="1086" y="283" width="1" height="18" fill="#fff"/>
<rect x="1090" y="285" width="1" height="25" fill="#000"/>
<rect x="1089" y="288" width="3" height="21" fill="#000"/>
<rect x="1094" y="279" width="1" height="28" fill="#000"/>
<rect x="1093" y="280" width="3" height="8" fill="#000"/>
<rect x="1099" y="262" width="1" height="34" fill="#000"/>
<rect x="1098" y="264" width="3" height="21" fill="#000"/>
<rect x="1099" y="265" width="1" height="19" fill="#fff"/>
<rect x="1103" y="259" width="1" height="29" fill="#000"/>
<rect x="1102" y="262" width="3" height="21" fill="#000"/>
<rect x="1107" y="262" width="1" height="27" fill="#000"/>
<rect x="1106" y="265" width="3" height="24" fill="#000"/>
<rect x="1107" y="266" width="1" height="22" fill="#fff"/>
<rect x="1112" y="256" width="1" height="23" fill="#000"/>
<rect x="1111" y="259" width="3" height="9" fill="#000"/>
<rect x="1116" y="256" width="1" height="47" fill="#000"/>
<rect x="1115" y="270" width="3" height="20" fill="#000"/>
<rect x="1120" y="257" width="1" height="35" fill="#000"/>
<rect x="1119" y="263" width="3" height="26" fill="#000"/>
<rect x="1120" y="264" width="1" height="24" fill="#fff"/>
<rect x="1125" y="258" width="1" height="12" fill="#000"/>
<rect x="1124" y="263" width="3" height="1" fill="#000"/>
<rect x="1129" y="256" width="1" height="11" fill="#000"/>
<rect x="1128" y="260" width="3" height="6" fill="#000"/>
<rect x="1129" y="261" width="1" height="4" fill="#fff"/>
<rect x="1133" y="252" width="1" height="26" fill="#000"/>
<rect x="1132" y="256" width="3" height="9" fill="#000"/>
<rect x="1138" y="264" width="1" height="13" fill="#000"/>
<rect x="1137" y="264" width="3" height="2" fill="#000"/>
<rect x="1142" y="239" width="1" height="25" fill="#000"/>
<rect x="1141" y="246" width="3" height="18" fill="#000"/>
<rect x="1142" y="247" width="1" height="16" fill="#fff"/>
<rect x="1146" y="228" width="1" height="39" fill="#000"/>
<rect x="1145" y="228" width="3" height="13" fill="#000"/>
<rect x="1151" y="238" width="1" height="25" fill="#000"/>
<rect x="1150" y="240" width="3" height="16" fill="#000"/>
<rect x="1155" y="239" width="1" height="17" fill="#000"/>
<rect x="1154" y="254" width="3" height="2" fill="#000"/>
<rect x="1159" y="248" width="1" height="16" fill="#000"/>
<rect x="1158" y="249" width="3" height="14" fill="#000"/>
<rect x="1164" y="240" width="1" height="24" fill="#000"/>
<rect x="1163" y="245" width="3" height="18" fill="#000"/>
<rect x="1164" y="246" width="1" height="16" fill="#fff"/>
<rect x="1168" y="244" width="1" height="16" fill="#000"/>
<rect x="1167" y="246" width="3" height="3" fill="#000"/>
<rect x="1172" y="207" width="1" height="40" fill="#000"/>
<rect x="1171" y="211" width="3" height="28" fill="#000"/>
<rect x="1172" y="212" width="1" height="26" fill="#fff"/>
<rect x="1177" y="189" width="1" height="34" fill="#000"/>
<rect x="1176" y="211" width="3" height="6" fill="#000"/>
<rect x="1181" y="209" width="1" height="17" fill="#000"/>
<rect x="1180" y="211" width="3" height="5" fill="#000"/>
<rect x="1181" y="212" width="1" height="3" fill="#fff"/>
<rect x="1185" y="191" width="1" height="24" fill="#000"/>
<rect x="1184" y="196" width="3" height="19" fill="#000"/>
<rect x="1185" y="197" width="1" height="17" fill="#fff"/>
<rect x="1190" y="189" width="1" height="7" fill="#000"/>
<rect x="1189" y="191" width="3" height="2" fill="#000"/>
<rect x="1194" y="181" width="1" height="21" fill="#000"/>
<rect x="1193" y="191" width="3" height="2" fill="#000"/>
</g>
<line x1="711.4" y1="69.5" x2="1768" y2="69.5" stroke="#ff9800" stroke-width="2" stroke-dasharray="4.1 1.9"/>
<line x1="754.4" y1="188.5" x2="1768" y2="188.5" stroke="#ff9800" stroke-width="2" stroke-dasharray="4.1 1.9"/>
<line x1="898.4" y1="269.5" x2="1768" y2="269.5" stroke="#ff9800" stroke-width="2" stroke-dasharray="4.1 1.9"/>
<line x1="550.4" y1="403.5" x2="1768" y2="403.5" stroke="#ff9800" stroke-width="2" stroke-dasharray="4.1 1.9"/>
<line x1="233.4" y1="525.5" x2="1768" y2="525.5" stroke="#ff9800" stroke-width="2" stroke-dasharray="4.1 1.9"/>
<g shape-rendering="crispEdges" fill="#555555">
<rect x="1771" y="0" width="1" height="848"/>
<rect x="2" y="824" width="1814" height="1"/>
<rect x="1772" y="796" width="4" height="1"/>
<rect x="1772" y="763" width="4" height="1"/>
<rect x="1772" y="729" width="4" height="1"/>
<rect x="1772" y="695" width="4" height="1"/>
<rect x="1772" y="661" width="4" height="1"/>
<rect x="1772" y="627" width="4" height="1"/>
<rect x="1772" y="594" width="4" height="1"/>
<rect x="1772" y="560" width="4" height="1"/>
<rect x="1772" y="492" width="4" height="1"/>
<rect x="1772" y="458" width="4" height="1"/>
<rect x="1772" y="424" width="4" height="1"/>
<rect x="1772" y="391" width="4" height="1"/>
<rect x="1772" y="357" width="4" height="1"/>
<rect x="1772" y="323" width="4" height="1"/>
<rect x="1772" y="289" width="4" height="1"/>
<rect x="1772" y="255" width="4" height="1"/>
<rect x="1772" y="221" width="4" height="1"/>
<rect x="1772" y="154" width="4" height="1"/>
<rect x="1772" y="120" width="4" height="1"/>
<rect x="1772" y="86" width="4" height="1"/>
<rect x="1772" y="52" width="4" height="1"/>
<rect x="1772" y="18" width="4" height="1"/>
<rect x="70" y="825" width="1" height="3"/>
<rect x="148" y="825" width="1" height="3"/>
<rect x="231" y="825" width="1" height="3"/>
<rect x="326" y="825" width="1" height="3"/>
<rect x="413" y="825" width="1" height="3"/>
<rect x="505" y="825" width="1" height="3"/>
<rect x="591" y="825" width="1" height="3"/>
<rect x="683" y="825" width="1" height="3"/>
<rect x="765" y="825" width="1" height="3"/>
<rect x="865" y="825" width="1" height="3"/>
<rect x="956" y="825" width="1" height="3"/>
<rect x="1047" y="825" width="1" height="3"/>
<rect x="1147" y="825" width="1" height="3"/>
<rect x="1230" y="825" width="1" height="3"/>
<rect x="1308" y="825" width="1" height="3"/>
<rect x="1408" y="825" width="1" height="3"/>
<rect x="1495" y="825" width="1" height="3"/>
<rect x="1590" y="825" width="1" height="3"/>
<rect x="1686" y="825" width="1" height="3"/>
</g>
<rect x="0" y="0" width="2" height="848" fill="#dfe2ec"/>
<rect x="1816" y="0" width="2" height="848" fill="#dfe2ec"/>
<g font-family="Liberation Sans, sans-serif" font-size="11" fill="#555555">
<text x="1780" y="800.7" textLength="27" lengthAdjust="spacingAndGlyphs">14.00</text>
<text x="1780" y="767.7" textLength="27" lengthAdjust="spacingAndGlyphs">15.00</text>
<text x="1780" y="733.7" textLength="27" lengthAdjust="spacingAndGlyphs">16.00</text>
<text x="1780" y="699.7" textLength="27" lengthAdjust="spacingAndGlyphs">17.00</text>
<text x="1780" y="665.7" textLength="27" lengthAdjust="spacingAndGlyphs">18.00</text>
<text x="1780" y="631.7" textLength="27" lengthAdjust="spacingAndGlyphs">19.00</text>
<text x="1780" y="598.7" textLength="27" lengthAdjust="spacingAndGlyphs">20.00</text>
<text x="1780" y="564.7" textLength="27" lengthAdjust="spacingAndGlyphs">21.00</text>
<text x="1780" y="496.7" textLength="27" lengthAdjust="spacingAndGlyphs">23.00</text>
<text x="1780" y="462.7" textLength="27" lengthAdjust="spacingAndGlyphs">24.00</text>
<text x="1780" y="428.7" textLength="27" lengthAdjust="spacingAndGlyphs">25.00</text>
<text x="1780" y="395.7" textLength="27" lengthAdjust="spacingAndGlyphs">26.00</text>
<text x="1780" y="361.7" textLength="27" lengthAdjust="spacingAndGlyphs">27.00</text>
<text x="1780" y="327.7" textLength="27" lengthAdjust="spacingAndGlyphs">28.00</text>
<text x="1780" y="293.7" textLength="27" lengthAdjust="spacingAndGlyphs">29.00</text>
<text x="1780" y="259.7" textLength="27" lengthAdjust="spacingAndGlyphs">30.00</text>
<text x="1780" y="225.7" textLength="27" lengthAdjust="spacingAndGlyphs">31.00</text>
<text x="1780" y="158.7" textLength="27" lengthAdjust="spacingAndGlyphs">33.00</text>
<text x="1780" y="124.7" textLength="27" lengthAdjust="spacingAndGlyphs">34.00</text>
<text x="1780" y="90.7" textLength="27" lengthAdjust="spacingAndGlyphs">35.00</text>
<text x="1780" y="56.7" textLength="27" lengthAdjust="spacingAndGlyphs">36.00</text>
<text x="1780" y="22.7" textLength="27" lengthAdjust="spacingAndGlyphs">37.00</text>
</g>
<rect x="1771" y="197" width="45" height="17" fill="#fff" shape-rendering="crispEdges"/>
<rect x="1771" y="205" width="4" height="1" fill="#000" shape-rendering="crispEdges"/>
<text x="1780" y="208.9" font-family="Liberation Sans, sans-serif" font-size="11" fill="#000" textLength="27" lengthAdjust="spacingAndGlyphs">31.90</text>
<rect x="1771" y="61" width="45" height="17" fill="#ff9800" shape-rendering="crispEdges"/>
<rect x="1771" y="69" width="4" height="1" fill="#fff" shape-rendering="crispEdges"/>
<text x="1780" y="72.9" font-family="Liberation Sans, sans-serif" font-size="11" font-weight="bold" fill="#fff" textLength="27.2" lengthAdjust="spacingAndGlyphs">35.50</text>
<rect x="1771" y="180" width="45" height="17" fill="#ff9800" shape-rendering="crispEdges"/>
<rect x="1771" y="188" width="4" height="1" fill="#fff" shape-rendering="crispEdges"/>
<text x="1780" y="191.9" font-family="Liberation Sans, sans-serif" font-size="11" font-weight="bold" fill="#fff" textLength="27.2" lengthAdjust="spacingAndGlyphs">32.00</text>
<rect x="1771" y="261" width="45" height="17" fill="#ff9800" shape-rendering="crispEdges"/>
<rect x="1771" y="269" width="4" height="1" fill="#fff" shape-rendering="crispEdges"/>
<text x="1780" y="272.9" font-family="Liberation Sans, sans-serif" font-size="11" font-weight="bold" fill="#fff" textLength="27.2" lengthAdjust="spacingAndGlyphs">29.60</text>
<rect x="1771" y="395" width="45" height="17" fill="#ff9800" shape-rendering="crispEdges"/>
<rect x="1771" y="403" width="4" height="1" fill="#fff" shape-rendering="crispEdges"/>
<text x="1780" y="406.9" font-family="Liberation Sans, sans-serif" font-size="11" font-weight="bold" fill="#fff" textLength="27.2" lengthAdjust="spacingAndGlyphs">25.64</text>
<rect x="1771" y="517" width="45" height="17" fill="#ff9800" shape-rendering="crispEdges"/>
<rect x="1771" y="525" width="4" height="1" fill="#fff" shape-rendering="crispEdges"/>
<text x="1780" y="528.9" font-family="Liberation Sans, sans-serif" font-size="11" font-weight="bold" fill="#fff" textLength="27.2" lengthAdjust="spacingAndGlyphs">22.04</text>
<g font-family="Liberation Sans, sans-serif" font-size="10.7" fill="#555555" text-anchor="middle">
<text x="70.3" y="842.6">Nov</text>
<text x="148.3" y="842.6">29</text>
<text x="231.7" y="842.6" font-weight="bold">2019</text>
<text x="326.3" y="842.6">Feb</text>
<text x="413.3" y="842.6">Mar</text>
<text x="505.7" y="842.6">Apr</text>
<text x="591.7" y="842.6">May</text>
<text x="683.3" y="842.6">Jun</text>
<text x="765.3" y="842.6">Jul</text>
<text x="865.3" y="842.6">Aug</text>
<text x="956.0" y="842.6">Sep</text>
<text x="1047.3" y="842.6">Oct</text>
<text x="1147.0" y="842.6">Nov</text>
<text x="1230.3" y="842.6">Dec</text>
<text x="1308.3" y="842.6" font-weight="bold">2020</text>
<text x="1408.3" y="842.6">Feb</text>
<text x="1495.3" y="842.6">Mar</text>
<text x="1590.3" y="842.6">Apr</text>
<text x="1686.3" y="842.6">May</text>
</g>
<circle cx="96.7" cy="809" r="12.3" fill="#fff" stroke="#f23645" stroke-width="1.2"/>
<text x="93.90" y="811.8" font-family="Liberation Sans, sans-serif" font-size="11.5" fill="#f23645" textLength="5.6" lengthAdjust="spacingAndGlyphs">E</text>
<circle cx="419" cy="809" r="12.3" fill="#fff" stroke="#f23645" stroke-width="1.2"/>
<text x="416.20" y="811.8" font-family="Liberation Sans, sans-serif" font-size="11.5" fill="#f23645" textLength="5.6" lengthAdjust="spacingAndGlyphs">E</text>
<circle cx="587.7" cy="809" r="12.3" fill="#fff" stroke="#2196f3" stroke-width="1.2"/>
<text x="584.40" y="811.8" font-family="Liberation Sans, sans-serif" font-size="11.5" fill="#2196f3" textLength="6.6" lengthAdjust="spacingAndGlyphs">D</text>
<circle cx="617.7" cy="809" r="12.3" fill="#fff" stroke="#f23645" stroke-width="1.2"/>
<text x="614.90" y="811.8" font-family="Liberation Sans, sans-serif" font-size="11.5" fill="#f23645" textLength="5.6" lengthAdjust="spacingAndGlyphs">E</text>
<circle cx="935.7" cy="809" r="12.3" fill="#fff" stroke="#f23645" stroke-width="1.2"/>
<text x="932.90" y="811.8" font-family="Liberation Sans, sans-serif" font-size="11.5" fill="#f23645" textLength="5.6" lengthAdjust="spacingAndGlyphs">E</text>
<circle cx="1169.7" cy="809" r="12.3" fill="#fff" stroke="#f23645" stroke-width="1.2"/>
<text x="1166.90" y="811.8" font-family="Liberation Sans, sans-serif" font-size="11.5" fill="#f23645" textLength="5.6" lengthAdjust="spacingAndGlyphs">E</text>
<g stroke="#131722" stroke-width="1.3" fill="none" stroke-linecap="butt">
<circle cx="1793.5" cy="838.5" r="4.7"/>
<line x1="1798.70" y1="838.50" x2="1800.90" y2="838.50"/>
<line x1="1797.18" y1="842.18" x2="1798.73" y2="843.73"/>
<line x1="1793.50" y1="843.70" x2="1793.50" y2="845.90"/>
<line x1="1789.82" y1="842.18" x2="1788.27" y2="843.73"/>
<line x1="1788.30" y1="838.50" x2="1786.10" y2="838.50"/>
<line x1="1789.82" y1="834.82" x2="1788.27" y2="833.27"/>
<line x1="1793.50" y1="833.30" x2="1793.50" y2="831.10"/>
<line x1="1797.18" y1="834.82" x2="1798.73" y2="833.27"/>
</g>
</svg>
<div class="t" style="left:9px;top:4px;width:208px;height:20px;background:rgba(255,255,255,.6)"></div>
<div class="t" style="left:32px;top:26px;width:125px;height:20px;background:rgba(255,255,255,.6)"></div>
<div class="t" style="left:32px;top:50px;width:132px;height:20px;background:rgba(255,255,255,.6)"></div>
<div class="t" style="left:32px;top:74px;width:111px;height:20px;background:rgba(255,255,255,.6)"></div>
<div class="t" style="left:32px;top:98px;width:111px;height:20px;background:rgba(255,255,255,.6)"></div>
<div class="t lg" id="ttl" style="left:11px;top:5px;font-size:15.6px;color:#4a4a4a;transform:scaleX(.885);transform-origin:0 0;padding:0 2px 1px 0">PLAY <span style="color:#a9a9a9">&middot;</span> 1D <span style="color:#a9a9a9">&middot;</span> GPW</div>
<div class="t lg" id="chg" style="left:130px;top:8px;font-size:12px;color:#131722;letter-spacing:.1px">+0.04 (+0.13%)</div>
<div class="t" style="left:10px;top:26px;width:17px;height:17px;border:1px solid #d1d4dc;border-radius:3px;background:#fff"><svg width="17" height="17" viewBox="0 0 17 17"><path d="M5.5 7.5 L8.5 10.3 L11.5 7.5" fill="none" stroke="#131722" stroke-width="1.3"/></svg></div>
<div class="t lg" id="l1" style="left:37px;top:30px;font-size:12px;color:#4a4a4a;letter-spacing:.13px">EMA 50 close</div>
<div class="t lg" id="v1" style="left:121px;top:30px;font-size:12px;color:#2452ae;letter-spacing:.3px">29.92</div>
<div class="t lg" id="l2" style="left:37px;top:54px;font-size:12px;color:#4a4a4a;letter-spacing:.15px">EMA 200 close</div>
<div class="t lg" id="v2" style="left:127.5px;top:54px;font-size:12px;color:#ff6d00;letter-spacing:.3px">28.22</div>
<div class="t lg" id="l3" style="left:37px;top:78px;font-size:12px;color:#b4b8c6;letter-spacing:.25px">MA 100 close</div>
<div class="t lg" id="l4" style="left:37px;top:102px;font-size:12px;color:#b4b8c6;letter-spacing:.25px">MA 200 close</div>
<svg width="16" height="12" viewBox="0 0 16 12" style="position:absolute;left:122px;top:77.7px;overflow:visible"><g fill="none" stroke="#2a2e39" stroke-width="1.15"><path d="M0.5 6 C3 1.5 5.5 0.5 8 0.5 C10.5 0.5 13 1.5 15.5 6 C13 10.5 10.5 11.5 8 11.5 C5.5 11.5 3 10.5 0.5 6Z"/><circle cx="8" cy="6" r="2.7"/><line x1="2.2" y1="12" x2="13.9" y2="0"/></g></svg>
<svg width="16" height="12" viewBox="0 0 16 12" style="position:absolute;left:122px;top:101.7px;overflow:visible"><g fill="none" stroke="#2a2e39" stroke-width="1.15"><path d="M0.5 6 C3 1.5 5.5 0.5 8 0.5 C10.5 0.5 13 1.5 15.5 6 C13 10.5 10.5 11.5 8 11.5 C5.5 11.5 3 10.5 0.5 6Z"/><circle cx="8" cy="6" r="2.7"/><line x1="2.2" y1="12" x2="13.9" y2="0"/></g></svg>
<div class="t" style="left:1627px;top:6px;width:16px;height:16px;border-radius:50%;background:#ff9850;color:#fff;font-size:11px;font-weight:bold;text-align:center;line-height:16px">!</div>
<div class="t" style="left:1648px;top:11px;width:6px;height:6px;border-radius:50%;background:#ff9850"></div>
<div class="t" id="pm" style="left:1658px;top:8px;font-size:12px;color:#ff9850;letter-spacing:-.15px">Pre Market&nbsp; Delayed</div>
</body></html>
